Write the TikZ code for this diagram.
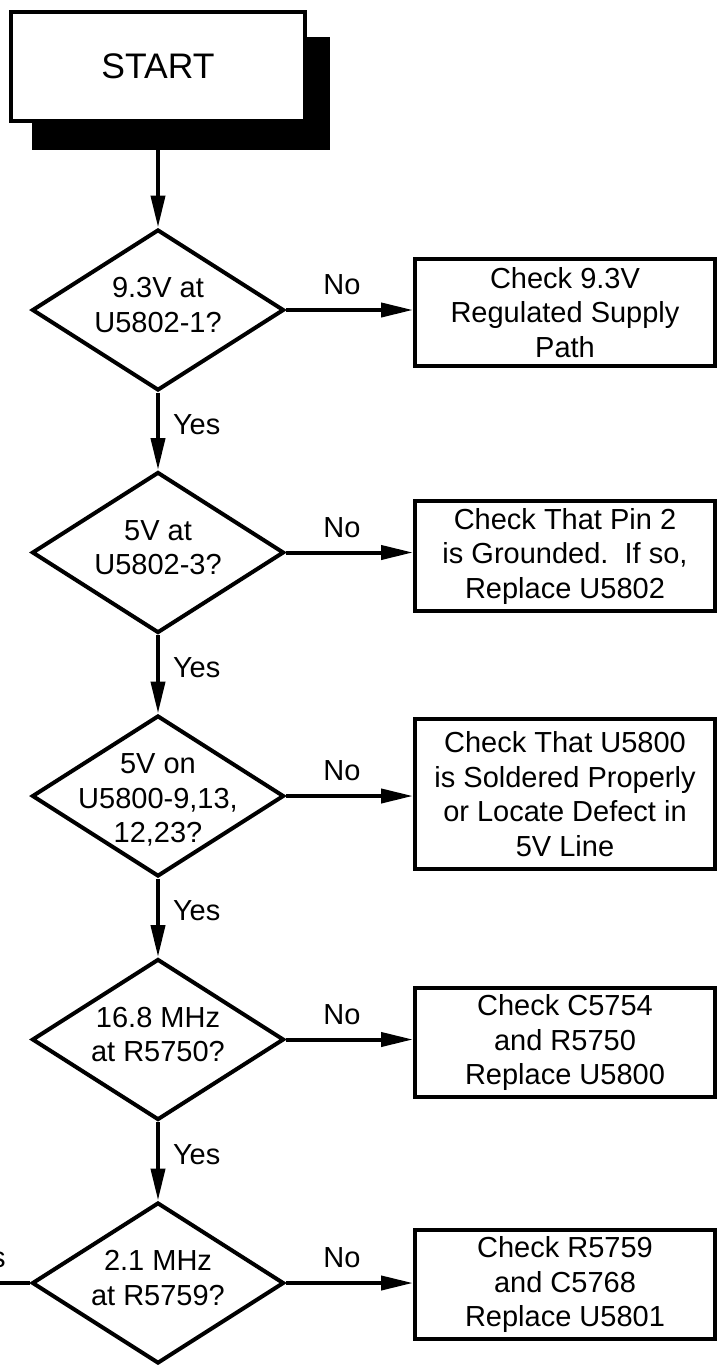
\documentclass[tikz,border=0pt]{standalone}
\usepackage{fontspec}
\setmainfont{Liberation Sans}
\usetikzlibrary{positioning, shapes.geometric, arrows.meta, shadows}

\tikzset{
  decision/.style={diamond, draw, line width=4pt, minimum width=252pt, minimum height=161pt, inner sep=0pt},
  qtext/.style={align=center, yshift=5pt},
  fixbox/.style={rectangle, draw, line width=4pt, minimum width=300pt, minimum height=109pt, align=center, inner sep=3pt},
  arr/.style={line width=4pt, -{Triangle[length=32pt, width=14pt]}},
  lbl/.style={inner sep=3pt}
}

\begin{document}
\begin{tikzpicture}[x=1pt, y=-1pt, font=\fontsize{29}{34.5}\selectfont]
  \useasboundingbox (0,0) rectangle (719,1365);
  \clip (0,0) rectangle (719,1365);

  \node[draw, fill=white, line width=4pt, minimum width=294pt, minimum height=109pt,
    font=\fontsize{35.5}{40}\selectfont,
    drop shadow={shadow xshift=22.5pt, shadow yshift=-26.5pt, opacity=1, fill=black, draw=black}]
    (start) at (158,66.5) {START};

  \node[decision] (q1) at (158,310) {};
  \node[qtext] (qt1) at (q1) {9.3V at\\U5802-1?};
  \node[decision] (q2) at (158,552.5) {};
  \node[qtext] (qt2) at (q2) {5V at\\U5802-3?};
  \node[decision] (q3) at (158,796) {};
  \node[qtext, yshift=-9pt] (qt3) at (q3) {5V on\\U5800-9,13,\\12,23?};
  \node[decision] (q4) at (158,1039.5) {};
  \node[qtext] (qt4) at (q4) {16.8 MHz\\at R5750?};
  \node[decision] (q5) at (158,1283) {};
  \node[qtext] (qt5) at (q5) {2.1 MHz\\at R5759?};

  \node[fixbox, minimum height=107pt] (fix1) at (565,312.5) {Check 9.3V\\Regulated Supply\\Path};
  \node[fixbox, minimum height=110pt] (fix2) at (565,556) {Check That Pin 2\\is Grounded.\ \ If so,\\Replace U5802};
  \node[fixbox, minimum height=150pt] (fix3) at (565,794) {Check That U5800\\is Soldered Properly\\or Locate Defect in\\5V Line};
  \node[fixbox] (fix4) at (565,1042.5) {Check C5754\\and R5750\\Replace U5800};
  \node[fixbox] (fix5) at (565,1284.5) {Check R5759\\and C5768\\Replace U5801};

  \coordinate (out5) at (-90,1283);

  \draw[arr] (start.south) -- (q1.north);
  \foreach \i/\j in {1/2, 2/3, 3/4, 4/5}
    \draw[arr] (q\i.south) -- node[lbl, right=10pt, pos=0.41] {Yes} (q\j.north);
  \foreach \i in {1,...,5}
    \draw[arr] (q\i.east) -- node[lbl, above=10pt, pos=0.44] {No} (q\i.east -| fix\i.west);
  \draw[arr] (q5.west) -- node[lbl, above=10pt, pos=0.4] {Yes} (out5);
\end{tikzpicture}
\end{document}
